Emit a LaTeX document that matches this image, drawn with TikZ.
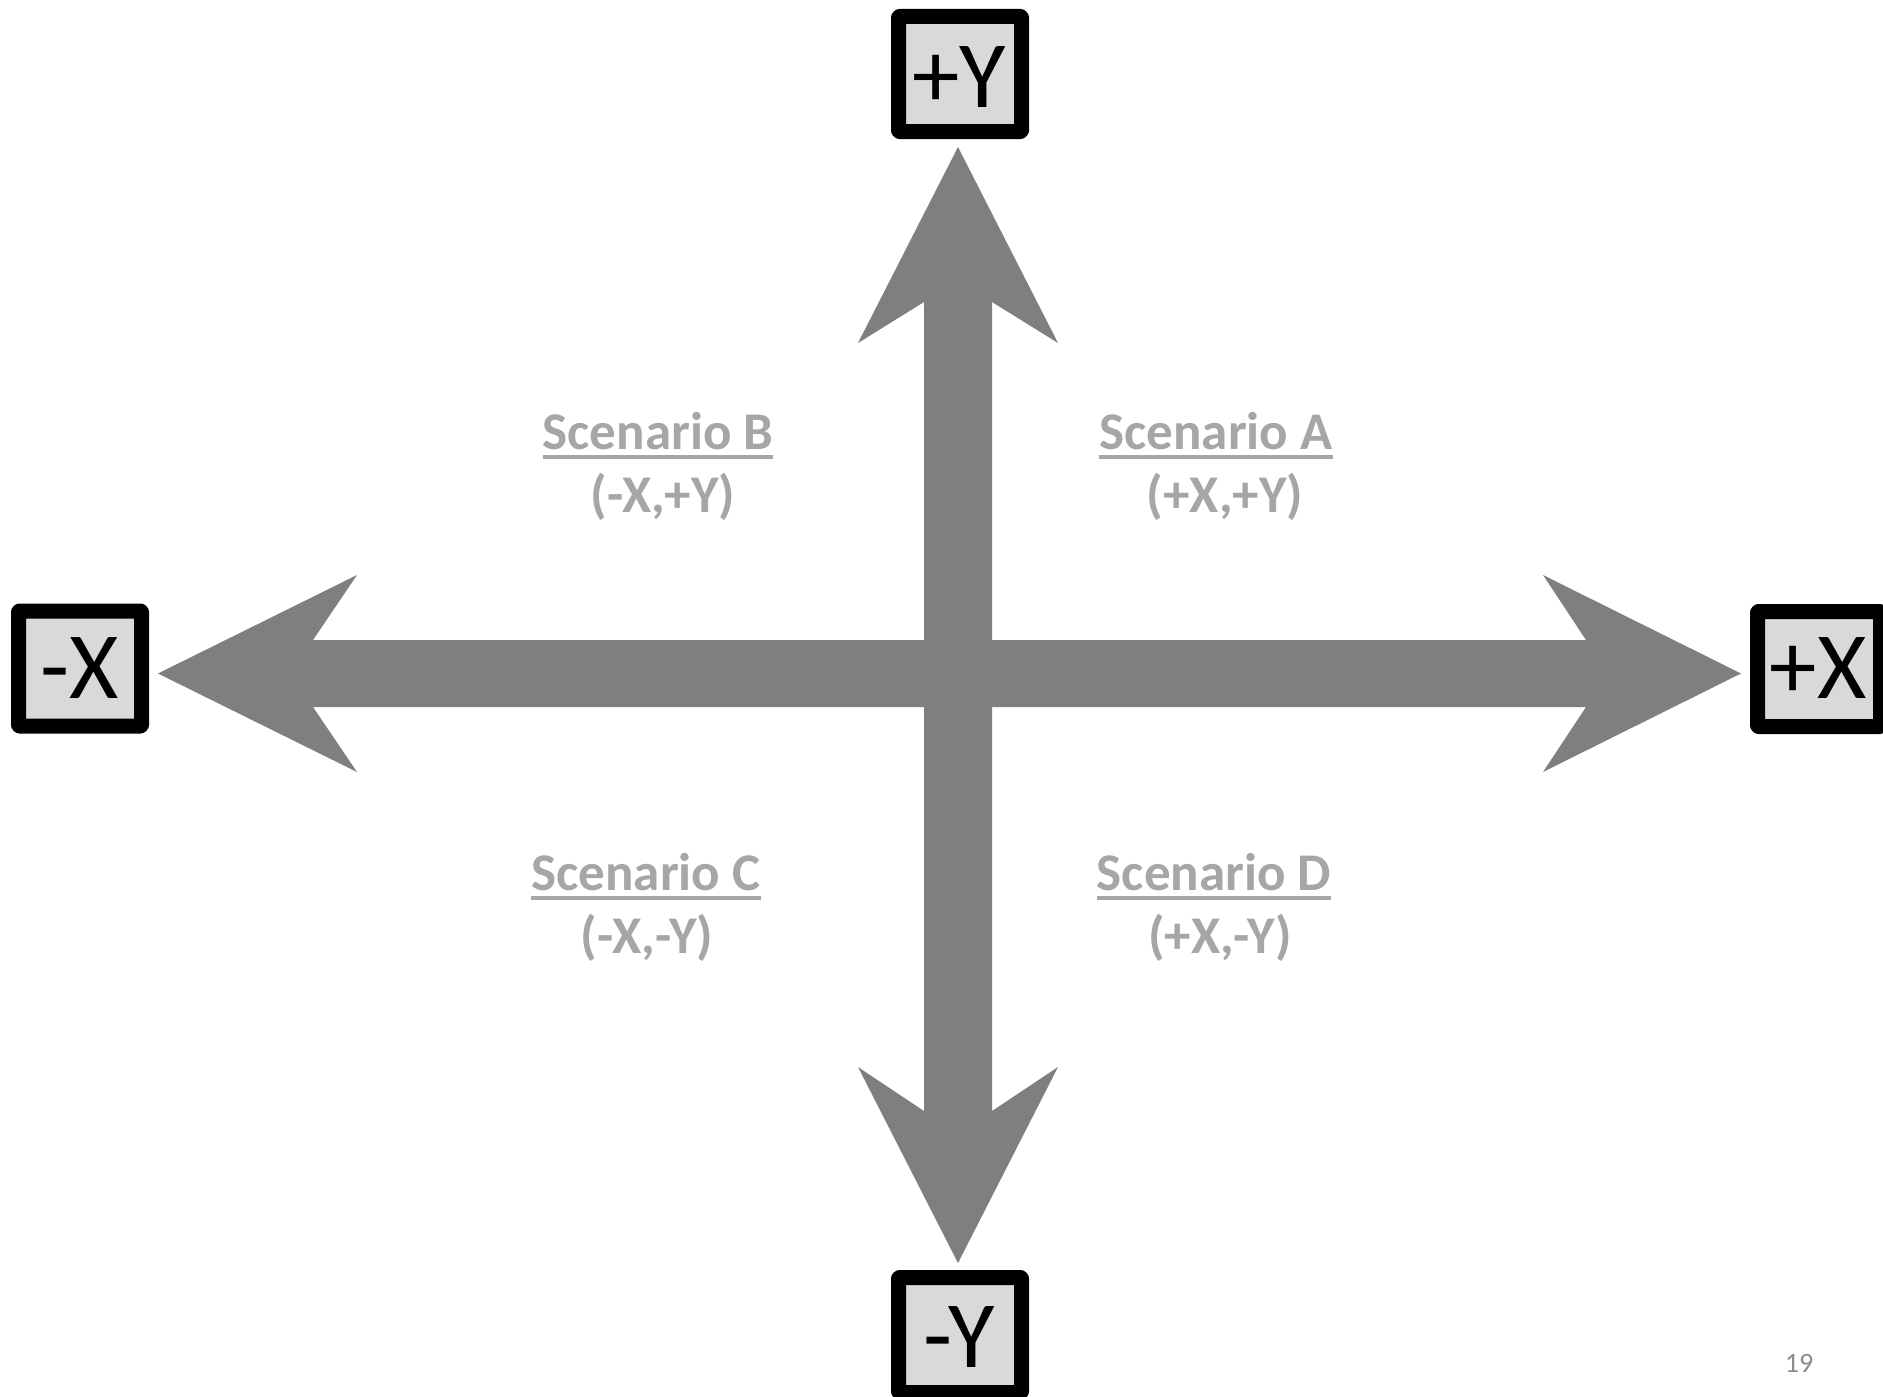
\documentclass[tikz,border=0pt]{standalone}
\usepackage{fontspec}
\setmainfont{Carlito}
\definecolor{arrowgray}{HTML}{7F7F7F}
\definecolor{boxfill}{HTML}{D9D9D9}
\definecolor{labelgray}{HTML}{A6A6A6}
\definecolor{pagegray}{HTML}{8C8C8C}
\tikzset{
  axisbox/.style={draw=black, fill=boxfill, line width=15pt, line join=round,
    rounded corners=1pt, minimum width=123pt, minimum height=115pt, inner sep=0pt},
  axistext/.style={inner sep=0pt, font=\fontsize{95}{95}\selectfont},
  bigarrow/.style={fill=arrowgray, draw=none},
  scen/.style={anchor=base, inner sep=0pt, text=labelgray,
    font=\fontsize{53}{53}\selectfont\bfseries},
  ul/.style={draw=labelgray, line width=3.5pt},
  pagenum/.style={anchor=base, inner sep=0pt, text=pagegray, font=\fontsize{28}{28}\selectfont}
}
\begin{document}
\begin{tikzpicture}[x=1pt,y=-1pt]
\useasboundingbox[fill=white] (0,0) rectangle (1883,1397);
% arrows
\fill[bigarrow] (158,673.5) -- (357,575) -- (313,640) -- (1586,640) -- (1543,575)
  -- (1741,673.5) -- (1543,772) -- (1586,707) -- (313,707) -- (357,772) -- cycle;
\fill[bigarrow] (958,147) -- (1058,343) -- (992,302) -- (992,1111) -- (1058,1067)
  -- (958,1263) -- (858,1067) -- (924,1111) -- (924,302) -- (858,343) -- cycle;
% axis boxes
\node[axisbox] (py) at (960,74) {};
\node[axistext] (pyt) at (959,77.5) {+Y};
\node[axisbox] (mx) at (80,668.5) {};
\node[axistext] (mxt) at (80,668.5) {-X};
\node[axisbox] (px) at (1819,669) {};
\node[axistext] (pxt) at (1818,668) {+X};
\node[axisbox] (my) at (960,1335) {};
\node[axistext] (myt) at (959,1337) {-Y};
% scenario labels
\node[scen] (sb) at (658,449) {Scenario B};
\node[scen] (sbc) at (663,512) {(-X,+Y)};
\node[scen] (sa) at (1216,449) {Scenario A};
\node[scen] (sac) at (1225,512) {(+X,+Y)};
\node[scen] (sc) at (646,890) {Scenario C};
\node[scen] (scc) at (647,953) {(-X,-Y)};
\node[scen] (sd) at (1214,890) {Scenario D};
\node[scen] (sdc) at (1220,953) {(+X,-Y)};
\foreach \n in {sa,sb,sc,sd}{
  \draw[ul] ([yshift=-8pt]\n.base west) -- ([yshift=-8pt]\n.base east);
}
\node[pagenum] (pg) at (1799,1372) {19};
\end{tikzpicture}
\end{document}
